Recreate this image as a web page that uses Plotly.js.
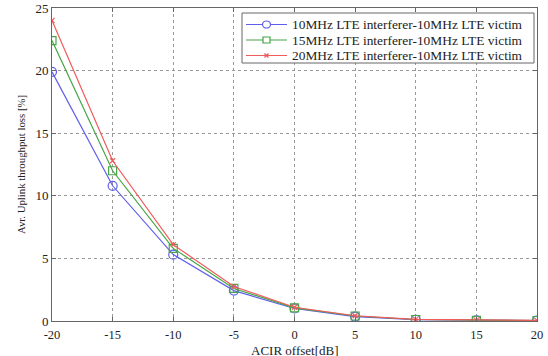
<!DOCTYPE html>
<html><head><meta charset="utf-8">
<script src="https://cdn.plot.ly/plotly-3.0.1.min.js"></script>
<style>html,body{margin:0;padding:0;background:#fff}#chart{width:548px;height:356px}</style>
</head><body><div id="chart"></div>
<script>
const acirOffset = [-20, -15, -10, -5, 0, 5, 10, 15, 20];
const loss10MHz = [19.9, 10.8, 5.3, 2.43, 1.0, 0.35, 0.1, 0.05, 0.03];
const loss15MHz = [22.4, 12.0, 5.8, 2.6, 1.05, 0.4, 0.12, 0.06, 0.04];
const loss20MHz = [24.0, 12.8, 6.1, 2.75, 1.1, 0.42, 0.13, 0.07, 0.05];
const yTicks = [0, 5, 10, 15, 20, 25];
const seriesNames = [
  '10MHz LTE interferer-10MHz LTE victim',
  '15MHz LTE interferer-10MHz LTE victim',
  '20MHz LTE interferer-10MHz LTE victim'
];
const xTitle = 'ACIR offset[dB]';
const yTitle = 'Avr. Uplink throughput loss [%]';
const colors = ['rgb(95,95,235)', 'rgb(70,165,70)', 'rgb(240,90,90)'];
const font = 'Liberation Serif, Times New Roman, serif';

// plot-area pixel box (for legend / title placement)
const PL = 52, PR = 537, PT = 8, PB = 321;
const px = v => (v - PL) / (PR - PL);
const py = v => (PB - v) / (PB - PT);

const traces = [
  {x: acirOffset, y: loss10MHz, name: seriesNames[0], mode: 'lines+markers',
   line: {color: colors[0], width: 1.2},
   marker: {symbol: 'circle-open', size: 9, color: colors[0], line: {width: 1.2}}},
  {x: acirOffset, y: loss15MHz, name: seriesNames[1], mode: 'lines+markers',
   line: {color: colors[1], width: 1.2},
   marker: {symbol: 'square-open', size: 8, color: colors[1], line: {width: 1.2}}},
  {x: acirOffset, y: loss20MHz, name: seriesNames[2], mode: 'lines+markers',
   line: {color: colors[2], width: 1.2},
   marker: {symbol: 'x-thin-open', size: 5, color: colors[2], line: {width: 1.2, color: colors[2]}}}
];

// manual legend (box, sample lines, symbols, text)
const rowsY = [24.5, 40, 55.5];
const shapes = [{type: 'rect', xref: 'paper', yref: 'paper',
  x0: px(242), x1: px(534), y0: py(63), y1: py(13),
  fillcolor: '#fff', line: {color: '#666', width: 1}, layer: 'above'}];
const annotations = [];
rowsY.forEach((ry, i) => {
  shapes.push({type: 'line', xref: 'paper', yref: 'paper', x0: px(246), x1: px(287),
    y0: py(ry), y1: py(ry), line: {color: colors[i], width: 1.2}, layer: 'above'});
  const cx = px(266.5), cy = py(ry);
  if (i === 0) {
    shapes.push({type: 'circle', xref: 'paper', yref: 'paper', xsizemode: 'pixel', ysizemode: 'pixel',
      xanchor: cx, yanchor: cy, x0: -4, x1: 4, y0: -3.5, y1: 3.5,
      fillcolor: '#fff', line: {color: colors[i], width: 1.2}, layer: 'above'});
  } else if (i === 1) {
    shapes.push({type: 'rect', xref: 'paper', yref: 'paper', xsizemode: 'pixel', ysizemode: 'pixel',
      xanchor: cx, yanchor: cy, x0: -3.5, x1: 3.5, y0: -3, y1: 3,
      fillcolor: '#fff', line: {color: colors[i], width: 1.2}, layer: 'above'});
  } else {
    shapes.push({type: 'line', xref: 'paper', yref: 'paper', xsizemode: 'pixel', ysizemode: 'pixel',
      xanchor: cx, yanchor: cy, x0: -2, x1: 2, y0: -2, y1: 2, line: {color: colors[i], width: 1.2}, layer: 'above'});
    shapes.push({type: 'line', xref: 'paper', yref: 'paper', xsizemode: 'pixel', ysizemode: 'pixel',
      xanchor: cx, yanchor: cy, x0: -2, x1: 2, y0: 2, y1: -2, line: {color: colors[i], width: 1.2}, layer: 'above'});
  }
  annotations.push({xref: 'paper', yref: 'paper', x: px(290), y: cy, xanchor: 'left', yanchor: 'middle',
    text: seriesNames[i], showarrow: false, font: {family: font, size: 13.4, color: '#222'}});
});
// x-axis title
annotations.push({xref: 'paper', yref: 'paper', x: 0.5, y: py(350.5), xanchor: 'center', yanchor: 'middle',
  text: xTitle, showarrow: false, borderpad: 0, font: {family: font, size: 13, color: '#222'}});

const layout = {
  width: 548, height: 356,
  margin: {l: PL, r: 548 - PR, t: PT, b: 356 - PB},
  paper_bgcolor: '#fff', plot_bgcolor: '#fff',
  font: {family: font, size: 13, color: '#222'},
  showlegend: false,
  shapes: shapes, annotations: annotations,
  xaxis: {range: [-20, 20], tickvals: acirOffset, ticktext: acirOffset.map(String),
    showgrid: true, gridcolor: '#999', griddash: 'dot', gridwidth: 1,
    zeroline: false, showline: true, mirror: 'ticks', linecolor: '#666', linewidth: 1,
    ticks: 'inside', ticklen: 4, tickcolor: '#666', ticklabelstandoff: 2,
    tickfont: {family: font, size: 12.5, color: '#222'}},
  yaxis: {range: [0, 25], tickvals: yTicks,
    showgrid: true, gridcolor: '#999', griddash: 'dot', gridwidth: 1,
    zeroline: false, showline: true, mirror: 'ticks', linecolor: '#666', linewidth: 1,
    ticks: 'inside', ticklen: 4, tickcolor: '#666',
    tickfont: {family: font, size: 13, color: '#222'},
    title: {text: yTitle, font: {family: font, size: 10.8, color: '#222'}, standoff: 7}}
};
Plotly.newPlot('chart', traces, layout, {displayModeBar: false, staticPlot: true});
</script></body></html>
